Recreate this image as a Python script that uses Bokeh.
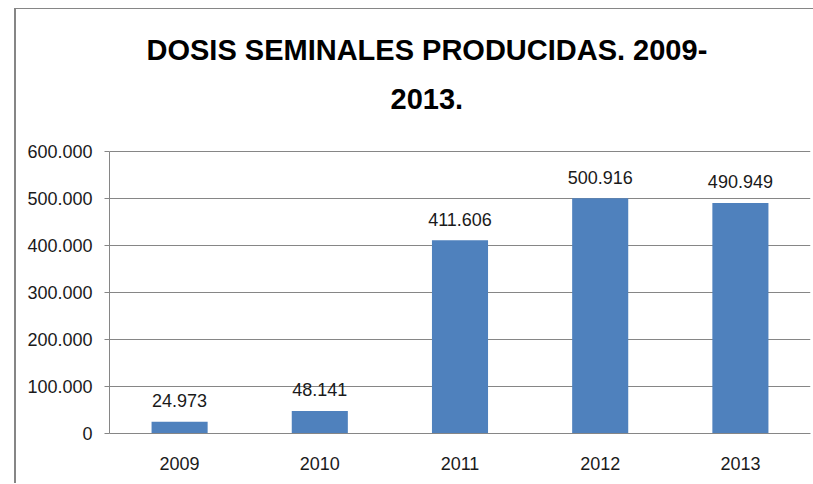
from bokeh.plotting import figure
from bokeh.layouts import column
from bokeh.models import FixedTicker, Title, ColumnDataSource
from bokeh.core.properties import value
from bokeh.embed import file_html
from bokeh.resources import INLINE

years = ["2009", "2010", "2011", "2012", "2013"]
doses = [24973, 48141, 411606, 500916, 490949]
value_labels = ["24.973", "48.141", "411.606", "500.916", "490.949"]
y_ticks = [0, 100000, 200000, 300000, 400000, 500000, 600000]
y_tick_labels = ["0", "100.000", "200.000", "300.000", "400.000", "500.000", "600.000"]
title_lines = ["DOSIS SEMINALES PRODUCIDAS. 2009-", "2013."]

FONT = "Liberation Sans"
GRAY = "#868686"

p = figure(
    x_range=years, y_range=(0, 660000),
    width=797, height=474,
    output_backend="svg", toolbar_location=None,
    min_border_left=93, min_border_right=3, min_border_top=114, min_border_bottom=50,
    outline_line_color=None,
    border_fill_color="white", background_fill_color="white",
)

src = ColumnDataSource(dict(x=years, top=doses, lab=value_labels))
p.vbar(x="x", top="top", width=0.4, source=src, fill_color="#4F81BD", line_color=None)
p.text(x="x", y="top", text="lab", source=src, text_align="center", text_baseline="alphabetic",
       y_offset=-21, text_font=value(FONT), text_font_size="18px", text_color="#1a1a1a")

ticker = FixedTicker(ticks=y_ticks)
p.yaxis.ticker = ticker
p.ygrid.ticker = ticker
p.yaxis.bounds = (y_ticks[0], y_ticks[-1])
p.yaxis.major_label_overrides = {t: l for t, l in zip(y_ticks, y_tick_labels)}
p.yaxis.minor_tick_line_color = None
p.yaxis.major_tick_in = 0
p.yaxis.major_tick_out = 5
p.yaxis.major_tick_line_color = GRAY
p.yaxis.axis_line_color = GRAY
p.yaxis.major_label_standoff = 12
p.yaxis.major_label_text_font = FONT
p.yaxis.major_label_text_font_size = "18px"
p.yaxis.major_label_text_color = "#1a1a1a"

p.xaxis.major_tick_line_color = None
p.xaxis.minor_tick_line_color = None
p.xaxis.axis_line_color = GRAY
p.xaxis.major_label_standoff = 17
p.xaxis.major_label_text_font = FONT
p.xaxis.major_label_text_font_size = "18px"
p.xaxis.major_label_text_color = "#1a1a1a"

p.xgrid.grid_line_color = None
p.ygrid.grid_line_color = GRAY
p.ygrid.grid_line_width = 1

# second line first: panels stack outward from the frame
for txt, so, off in zip(reversed(title_lines), [30, 12], [281, 37]):
    p.add_layout(Title(text=txt, align="left", offset=off, standoff=so,
                       text_font=FONT, text_font_style="bold",
                       text_font_size="29px", text_color="#000000"), "above")

layout = column(p, margin=(8, 0, 0, 14),
                styles={"border-left": "2px solid " + GRAY, "border-top": "1px solid " + GRAY})

open("out.html", "w").write(file_html(layout, INLINE))
